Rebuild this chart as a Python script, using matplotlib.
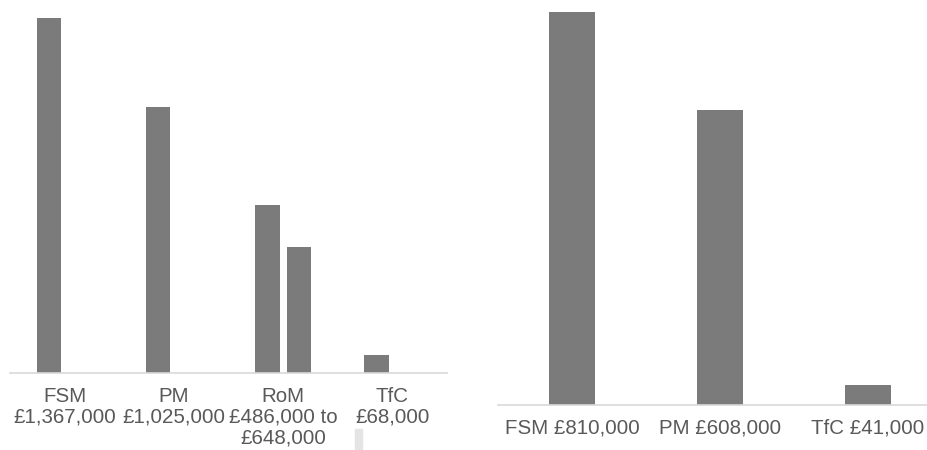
import matplotlib
matplotlib.use("Agg")
import matplotlib.pyplot as plt
from matplotlib.patches import Rectangle

# left chart: costs per option (upper estimate, plus lower for RoM)
left_cats = ["FSM\n£1,367,000", "PM\n£1,025,000", "RoM\n£486,000 to\n£648,000", "TfC\n£68,000"]
left_high = [1367000, 1025000, 648000, 68000]
left_low = [None, None, 486000, None]

# right chart
right_cats = ["FSM £810,000", "PM £608,000", "TfC £41,000"]
right_vals = [810000, 608000, 41000]

BAR = "#7b7b7b"
AXIS = "#d9d9d9"
TEXT = "#595959"

plt.rcParams["font.family"] = ["Liberation Sans", "DejaVu Sans"]

W, H = 928, 450
fig = plt.figure(figsize=(W / 100, H / 100), dpi=100)


def px_axes(x0, x1, base, top=0):
    # axes rect from pixel coords (top-left origin)
    return fig.add_axes([x0 / W, (H - base) / H, (x1 - x0) / W, (base - top) / H])


def style(ax):
    for s in ("top", "right", "left"):
        ax.spines[s].set_visible(False)
    ax.spines["bottom"].set_color(AXIS)
    ax.spines["bottom"].set_linewidth(1.2)
    ax.set_yticks([])
    ax.tick_params(axis="x", length=0, pad=10, labelsize=14.8, labelcolor=TEXT)


# ---- left
ax1 = px_axes(10, 447, 373)
xs = range(len(left_cats))
off, bw = 0.144, 0.225
ax1.bar([x - off for x in xs], left_high, width=bw, color=BAR)
ax1.bar([x + off for x in xs], [v if v is not None else 0 for v in left_low],
        width=bw, color=BAR)
ax1.set_xlim(-0.5, 3.5)
ax1.set_ylim(0, 1367000 * 373 / 355)
ax1.set_xticks(list(xs))
ax1.set_xticklabels(left_cats, linespacing=1.12)
style(ax1)

# ---- right
ax2 = px_axes(498, 942, 405)
xs2 = range(len(right_cats))
ax2.bar(list(xs2), right_vals, width=0.31, color=BAR)
ax2.set_xlim(-0.5, 2.5)
ax2.set_ylim(0, 810000 * 405 / 393)
ax2.set_xticks(list(xs2))
ax2.set_xticklabels(right_cats)
style(ax2)

# small leftover legend key under TfC
fig.patches.append(Rectangle((355 / W, 0), 7 / W, 21 / H, transform=fig.transFigure,
                             color="#e4e4e4", zorder=0))

fig.savefig("out.png", dpi=100)
